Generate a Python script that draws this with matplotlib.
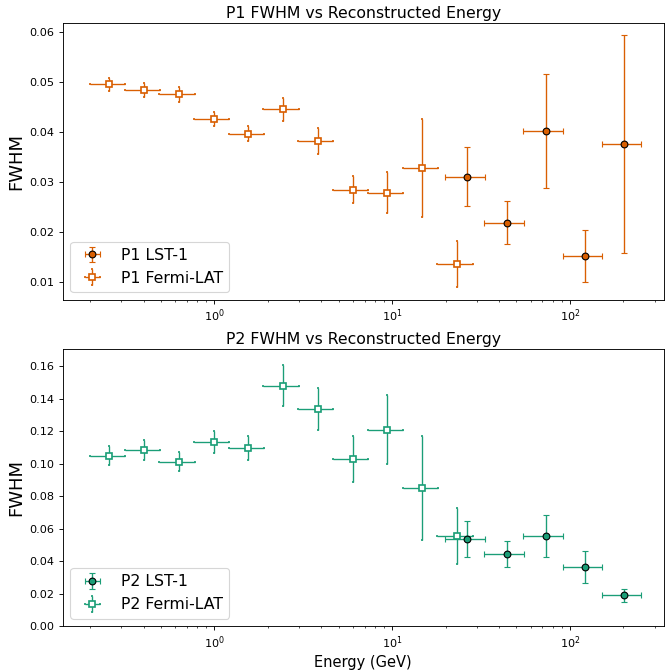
import matplotlib.pyplot as plt
import numpy as np

# energy bins (GeV)
e_fermi = [0.257, 0.404, 0.633, 0.992, 1.551, 2.438, 3.816, 6.003, 9.40, 14.79, 23.17]
e_fermi_err = [0.058, 0.091, 0.142, 0.223, 0.349, 0.549, 0.859, 1.35, 2.12, 3.33, 5.21]
e_lst = [26.5, 44.1, 73.1, 121.6, 201.4]
e_lst_err = [6.6, 11.1, 18.6, 30.0, 50.0]

# P1
p1_fermi = [0.0496, 0.0484, 0.0476, 0.0427, 0.0397, 0.0446, 0.0383, 0.0285, 0.0279, 0.0329, 0.0136]
p1_fermi_err = [0.0013, 0.0014, 0.0015, 0.0014, 0.0015, 0.0023, 0.0026, 0.0027, 0.0041, 0.0098, 0.0046]
p1_lst = [0.0311, 0.0219, 0.0402, 0.0152, 0.0376]
p1_lst_err = [0.0059, 0.0043, 0.0114, 0.0052, 0.0218]

# P2
p2_fermi = [0.1050, 0.1083, 0.1013, 0.1132, 0.1097, 0.1479, 0.1337, 0.1030, 0.1210, 0.0849, 0.0556]
p2_fermi_err = [0.0056, 0.0060, 0.0056, 0.0068, 0.0075, 0.0125, 0.0128, 0.0140, 0.0213, 0.0319, 0.0174]
p2_lst = [0.0535, 0.0445, 0.0554, 0.0363, 0.0191]
p2_lst_err = [0.0110, 0.0080, 0.0130, 0.0099, 0.0041]

c1 = '#d95f02'
c2 = '#1b9e77'

fig, axes = plt.subplots(2, 1, figsize=(665 / 81, 670 / 81), dpi=81)
fig.subplots_adjust(left=0.094, right=0.9985, top=0.966, bottom=0.065, hspace=0.178)

panels = [
    (axes[0], 'P1', c1, p1_lst, p1_lst_err, p1_fermi, p1_fermi_err),
    (axes[1], 'P2', c2, p2_lst, p2_lst_err, p2_fermi, p2_fermi_err),
]

for ax, name, col, lst, lst_err, fermi, fermi_err in panels:
    ax.errorbar(e_lst, lst, xerr=e_lst_err, yerr=lst_err, fmt='o', color=col,
                mfc=col, mec='black', ms=6, capsize=3, elinewidth=1.2,
                label=name + ' LST-1', zorder=3)
    ax.errorbar(e_fermi, fermi, xerr=e_fermi_err, yerr=fermi_err, fmt='s', color=col,
                mfc='white', mec=col, mew=1.5, ms=5.5, capsize=1, elinewidth=1.2,
                label=name + ' Fermi-LAT', zorder=2)
    ax.set_xscale('log')
    ax.set_ylabel('FWHM', fontsize=16)
    ax.set_title(name + ' FWHM vs Reconstructed Energy', fontsize=14, pad=4.5)
    ax.legend(loc='lower left', fontsize=14)

axes[0].set_xlim(0.14, 338)
axes[1].set_xlim(0.14, 338)
axes[0].set_ylim(0.00646, 0.0619)
axes[1].set_ylim(0, 0.1703)
axes[1].set_xlabel('Energy (GeV)', fontsize=13)

plt.savefig('out.png')
